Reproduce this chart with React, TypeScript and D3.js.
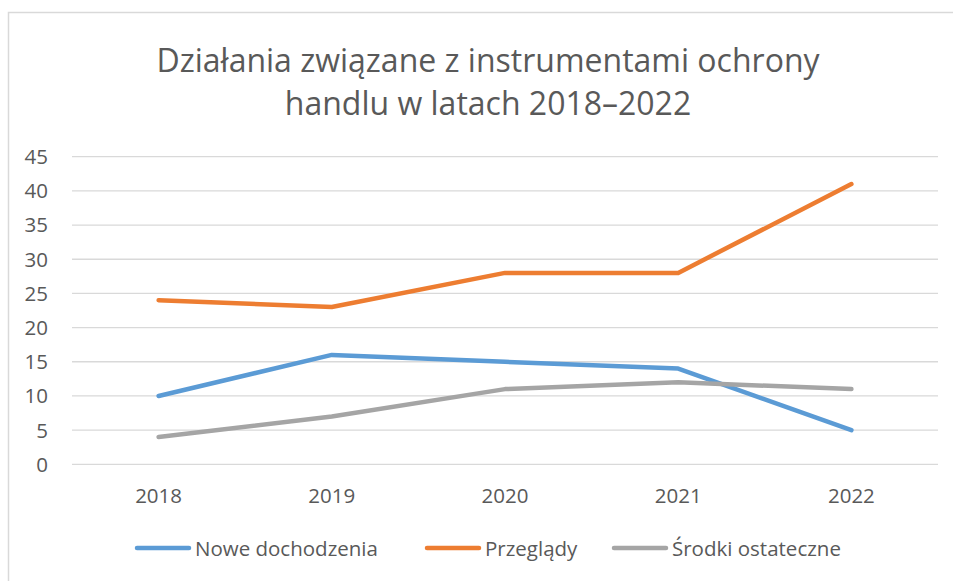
import React from "react";
import * as d3 from "d3";

const years = ["2018", "2019", "2020", "2021", "2022"];
const noweDochodzenia = [10, 16, 15, 14, 5];
const przeglady = [24, 23, 28, 28, 41];
const srodkiOstateczne = [4, 7, 11, 12, 11];
const yTicks = [0, 5, 10, 15, 20, 25, 30, 35, 40, 45];
const seriesNames = ["Nowe dochodzenia", "Przeglądy", "Środki ostateczne"];
const seriesColors = ["#5B9BD5", "#ED7D31", "#A5A5A5"];

const W = 953;
const H = 581;
const FONT = "'Open Sans', 'Noto Sans', sans-serif";

export default function App() {
  const x = d3.scalePoint<string>().domain(years).range([72, 938]).padding(0.5);
  const y = d3.scaleLinear().domain([0, 45]).range([464.3, 156.7]);
  const line = d3
    .line<number>()
    .x((_, i) => x(years[i]) as number)
    .y((d) => y(d));
  const series = [noweDochodzenia, przeglady, srodkiOstateczne];
  const legendTextX = [195, 485, 672];

  return (
    <svg
      width={W}
      height={H}
      style={{ position: "absolute", left: 0, top: 0, background: "#fff" }}
    >
      <rect x={8.5} y={12.5} width={W} height={H} fill="#fff" stroke="#d9d9d9" strokeWidth={1.5} />
      <text x={488} y={72} textAnchor="middle" fontFamily={FONT} fontSize={32} fill="#595959">
        Działania związane z instrumentami ochrony
      </text>
      <text x={488} y={115} textAnchor="middle" fontFamily={FONT} fontSize={32} fill="#595959">
        handlu w latach 2018–2022
      </text>
      {yTicks.map((t) => (
        <g key={t}>
          <line x1={72} x2={938} y1={y(t)} y2={y(t)} stroke="#d9d9d9" strokeWidth={1.3} />
          <text
            x={48}
            y={y(t)}
            dy="0.36em"
            textAnchor="end"
            fontFamily={FONT}
            fontSize={20.5}
            fill="#595959"
          >
            {t}
          </text>
        </g>
      ))}
      {years.map((yr) => (
        <text
          key={yr}
          x={x(yr)}
          y={503}
          textAnchor="middle"
          fontFamily={FONT}
          fontSize={20.5}
          fill="#595959"
        >
          {yr}
        </text>
      ))}
      {series.map((s, i) => (
        <path
          key={i}
          d={line(s) || ""}
          fill="none"
          stroke={seriesColors[i]}
          strokeWidth={4.5}
          strokeLinecap="round"
          strokeLinejoin="round"
        />
      ))}
      {seriesNames.map((n, i) => (
        <g key={n}>
          <line
            x1={legendTextX[i] - 58}
            x2={legendTextX[i] - 6}
            y1={548}
            y2={548}
            stroke={seriesColors[i]}
            strokeWidth={4.5}
            strokeLinecap="round"
          />
          <text x={legendTextX[i]} y={555.5} fontFamily={FONT} fontSize={20.5} fill="#595959">
            {n}
          </text>
        </g>
      ))}
    </svg>
  );
}
